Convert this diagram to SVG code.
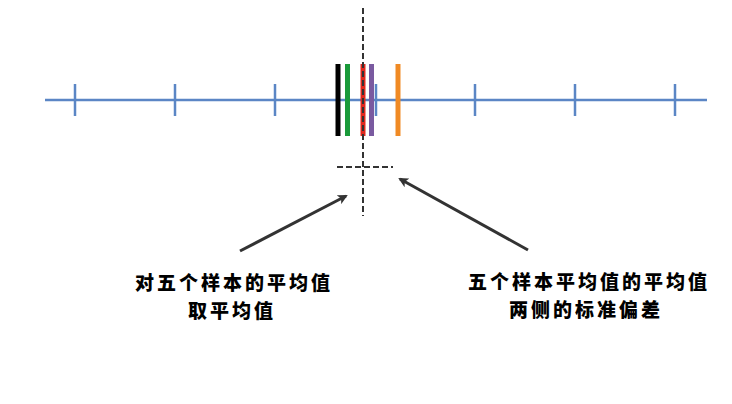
<svg xmlns="http://www.w3.org/2000/svg" width="732" height="404" viewBox="0 0 732 404">
<style>
.axis{stroke:#5b86c5;stroke-width:2.5;fill:none}
.tick{stroke:#5b86c5;stroke-width:2.5}
.bar{stroke-width:5}
.dash{stroke:#333;stroke-width:2;stroke-dasharray:6 3;fill:none}
.arrow{stroke:#333;stroke-width:3;fill:none}
.lbl{font-family:"Noto Sans CJK SC","Noto Sans",sans-serif;font-weight:900;font-size:19px;letter-spacing:3px;fill:#000;stroke:#fff;stroke-width:3;paint-order:stroke;stroke-linejoin:round;text-anchor:middle}
</style>
<defs>
<marker id="ah" markerWidth="10" markerHeight="10" refX="8" refY="5" orient="auto" markerUnits="userSpaceOnUse" viewBox="0 0 10 10">
<path d="M0,0 L10,5 L0,10 L2.5,5 Z" fill="#333"/>
</marker>
</defs>
<g id="axis">
<line class="axis" x1="45" y1="100" x2="707" y2="100"/>
<line class="tick" x1="75" y1="84" x2="75" y2="116"/>
<line class="tick" x1="175" y1="84" x2="175" y2="116"/>
<line class="tick" x1="275" y1="84" x2="275" y2="116"/>
<line class="tick" x1="376" y1="84" x2="376" y2="116"/>
<line class="tick" x1="475" y1="84" x2="475" y2="116"/>
<line class="tick" x1="575" y1="84" x2="575" y2="116"/>
<line class="tick" x1="675" y1="84" x2="675" y2="116"/>
</g>
<g id="bars">
<line class="bar" x1="338" y1="64" x2="338" y2="136" stroke="#000"/>
<line class="bar" x1="347.5" y1="64" x2="347.5" y2="136" stroke="#1a9a3a"/>
<line class="bar" x1="363" y1="64" x2="363" y2="136" stroke="#e0281e"/>
<line class="bar" x1="371.5" y1="64" x2="371.5" y2="136" stroke="#7a5aa0"/>
<line class="bar" x1="398" y1="64" x2="398" y2="136" stroke="#f08a24"/>
</g>
<g id="connectors">
<line class="dash" x1="363" y1="8" x2="363" y2="216"/>
<line class="dash" x1="337" y1="167" x2="393" y2="167"/>
<line class="arrow" x1="240" y1="251" x2="346" y2="196" marker-end="url(#ah)"/>
<line class="arrow" x1="528" y1="250" x2="400" y2="179" marker-end="url(#ah)"/>
</g>
<g id="label1">
<text class="lbl" x="234" y="290">对五个样本的平均值</text>
<text class="lbl" x="232" y="318">取平均值</text>
</g>
<g id="label2">
<text class="lbl" x="589" y="289">五个样本平均值的平均值</text>
<text class="lbl" x="586" y="317">两侧的标准偏差</text>
</g>
</svg>
